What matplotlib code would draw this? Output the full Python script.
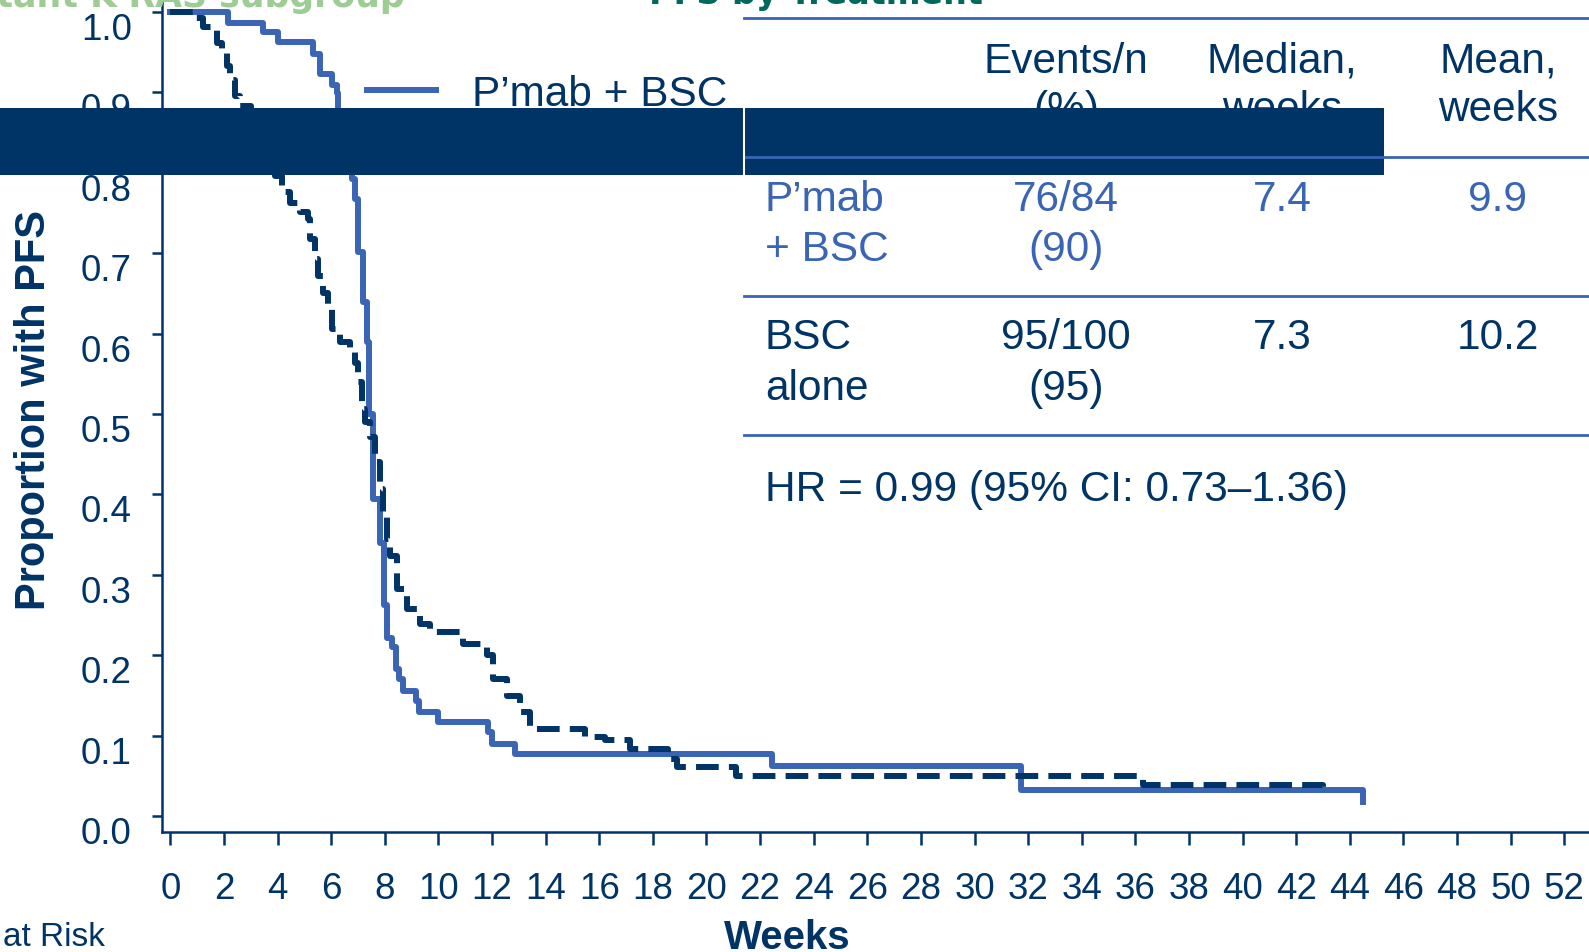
import matplotlib
matplotlib.use('Agg')
import matplotlib.pyplot as plt
from matplotlib.patches import Rectangle
from matplotlib.lines import Line2D

plt.rcParams['font.family'] = ['Liberation Sans', 'DejaVu Sans']

W, H = 1589, 953
NAVY = '#003366'
BLUE = '#3a64b4'
GREEN = '#9dcc94'
TEAL = '#00695c'

# KM curve, P'mab + BSC (weeks, proportion after the step)
pmab_t = [0, 2.16, 3.47, 4.0, 5.33, 5.58, 6.02, 6.2, 6.27, 6.39, 6.58, 6.77, 6.89,
          7.01, 7.2, 7.33, 7.42, 7.57, 7.82, 7.97, 8.09, 8.26, 8.42, 8.54, 8.67,
          9.16, 9.29, 10.0, 11.86, 11.99, 12.86, 22.45, 31.75, 44.5]
pmab_s = [1.0, 0.986, 0.975, 0.963, 0.948, 0.923, 0.909, 0.899, 0.873, 0.817, 0.809,
          0.792, 0.767, 0.701, 0.639, 0.589, 0.50, 0.394, 0.340, 0.262, 0.222, 0.210,
          0.183, 0.170, 0.156, 0.143, 0.129, 0.117, 0.104, 0.090, 0.077, 0.062, 0.032,
          0.017]

# KM curve, BSC alone
bsc_t = [0, 0.86, 1.23, 1.73, 1.92, 2.1, 2.23, 2.41, 2.6, 3.0, 3.4, 3.7, 3.9, 4.15,
         4.47, 4.84, 5.15, 5.21, 5.4, 5.52, 5.71, 5.89, 6.02, 6.33, 6.7, 6.89, 7.01,
         7.14, 7.26, 7.45, 7.64, 7.82, 7.95, 8.07, 8.2, 8.46, 8.82, 9.3, 9.7, 10.9,
         11.8, 12.04, 12.55, 13.04, 13.4, 15.47, 16.2, 17.15, 18.55, 18.9, 21.1,
         36.3, 43.0]
bsc_s = [1.0, 0.993, 0.981, 0.962, 0.950, 0.933, 0.915, 0.896, 0.883, 0.86, 0.83,
         0.81, 0.796, 0.776, 0.763, 0.751, 0.743, 0.718, 0.693, 0.672, 0.651, 0.635,
         0.606, 0.589, 0.581, 0.564, 0.540, 0.506, 0.490, 0.471, 0.44, 0.407, 0.376,
         0.345, 0.324, 0.282, 0.257, 0.239, 0.229, 0.214, 0.20, 0.17, 0.149, 0.129,
         0.108, 0.098, 0.094, 0.083, 0.071, 0.061, 0.050, 0.039, 0.034]

x_ticks = list(range(0, 53, 2))
y_ticks = [0.0, 0.1, 0.2, 0.3, 0.4, 0.5, 0.6, 0.7, 0.8, 0.9, 1.0]

# table
col_heads = [('Events/n', '(%)'), ('Median,', 'weeks'), ('Mean,', 'weeks')]
row_names = [("P\u2019mab", '+ BSC'), ('BSC', 'alone')]
events = [('76/84', '(90)'), ('95/100', '(95)')]
medians = ['7.4', '7.3']
means = ['9.9', '10.2']
hr_text = 'HR = 0.99 (95% CI: 0.73\u20131.36)'


def fx(px):
    return px / W


def fy(py):
    return 1 - py / H


fig = plt.figure(figsize=(W / 100, H / 100), dpi=100)
ax = fig.add_axes([fx(162), fy(833), 1 - fx(162), 833 / H])

ax.step(pmab_t, pmab_s, where='post', color=BLUE, lw=4.3, label="P\u2019mab + BSC", zorder=3)
ax.step(bsc_t, bsc_s, where='post', color=NAVY, lw=4.3, dashes=(3.8, 1.7),
        label='BSC alone', zorder=4)

ax.set_xlim(-0.31, 52.92)
ax.set_ylim(-0.0199, 1.0162)
ax.set_xticks(x_ticks)
ax.set_yticks(y_ticks)
ax.set_yticklabels(['%.1f' % v for v in y_ticks])

for s in ['top', 'right']:
    ax.spines[s].set_visible(False)
for s in ['left', 'bottom']:
    ax.spines[s].set_color(NAVY)
    ax.spines[s].set_linewidth(1.8)

ax.tick_params(axis='x', direction='out', length=9.4, width=1.8, colors=NAVY,
               labelsize=26.5, pad=19)
ax.tick_params(axis='y', direction='out', length=7.2, width=1.8, colors=NAVY,
               labelsize=26.5, pad=14.5)
for t in ax.yaxis.get_major_ticks():
    t.label1.set_va('top')

leg = ax.legend(loc='upper left', bbox_to_anchor=(fx(367), fy(75)),
                bbox_transform=fig.transFigure, frameon=False, fontsize=30.5,
                handlelength=1.63, handletextpad=0.85, borderpad=0, borderaxespad=0,
                labelspacing=0.35)
for txt in leg.get_texts():
    txt.set_color(NAVY)

fig.text(fx(34), fy(410), 'Proportion with PFS', rotation=90, ha='center', va='center',
         fontsize=30, fontweight='bold', color=NAVY)
fig.text(fx(787), fy(919), 'Weeks', ha='center', va='top', fontsize=29,
         fontweight='bold', color=NAVY)
fig.text(fx(3), fy(946), 'at Risk', ha='left', va='baseline', fontsize=24, color=NAVY)

# titles, cut off by the top edge as in the slide crop
fig.text(fx(405), fy(7), 'Mutant K-RAS subgroup', ha='right', va='baseline',
         fontsize=25, fontweight='bold', color=GREEN, family='DejaVu Sans')
fig.text(fx(649), fy(4), 'PFS by Treatment', ha='left', va='baseline',
         fontsize=24, fontweight='bold', color=TEAL, family='DejaVu Sans')

# table rules
for ly in [19, 158, 297, 436]:
    fig.add_artist(Line2D([fx(744), 1], [fy(ly), fy(ly)], transform=fig.transFigure,
                          color=BLUE, lw=2.0, zorder=7))

col_x = [1066, 1282, 1498]
for cx, (l1, l2) in zip(col_x, col_heads):
    fig.text(fx(cx), fy(62), l1, ha='center', va='center', fontsize=30.5, color=NAVY)
    fig.text(fx(cx), fy(110), l2, ha='center', va='center', fontsize=30.5, color=NAVY)

row_y = [(200, 250), (338, 389)]
row_col = [BLUE, NAVY]
for i in range(2):
    y1, y2 = row_y[i]
    c = row_col[i]
    fig.text(fx(765), fy(y1), row_names[i][0], ha='left', va='center', fontsize=30.5, color=c)
    fig.text(fx(765), fy(y2), row_names[i][1], ha='left', va='center', fontsize=30.5, color=c)
    fig.text(fx(col_x[0]), fy(y1), events[i][0], ha='center', va='center', fontsize=30.5, color=c)
    fig.text(fx(col_x[0]), fy(y2), events[i][1], ha='center', va='center', fontsize=30.5, color=c)
    fig.text(fx(col_x[1]), fy(y1), medians[i], ha='center', va='center', fontsize=30.5, color=c)
    fig.text(fx(col_x[2]), fy(y1), means[i], ha='center', va='center', fontsize=30.5, color=c)

fig.text(fx(765), fy(490), hr_text, ha='left', va='center', fontsize=30.5, color=NAVY)

# navy band over the top of the slide
fig.add_artist(Rectangle((0, fy(176)), fx(1384), (176 - 109) / H, transform=fig.transFigure,
                         facecolor=NAVY, edgecolor='none', zorder=6))
fig.add_artist(Line2D([fx(744), fx(744)], [fy(109), fy(176)], transform=fig.transFigure,
                      color='white', lw=1.5, zorder=7))

fig.savefig('out.png', dpi=100)
